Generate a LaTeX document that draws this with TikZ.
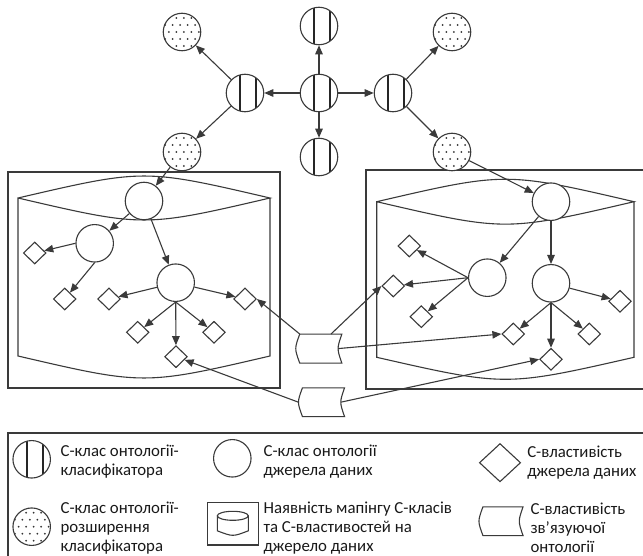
\documentclass[tikz,border=0pt]{standalone}
\usepackage{fontspec}
\setmainfont{Carlito}
\usetikzlibrary{arrows.meta,shapes.geometric,calc}
\definecolor{linegray}{HTML}{3A3A3A}
\begin{document}
\begin{tikzpicture}[
  x=1pt, y=-1pt,
  line width=1.1pt, color=linegray,
  every node/.style={inner sep=0pt},
  arr/.style={-{Triangle[length=9pt,width=7.5pt]}},
  srcclass/.style={circle, draw, fill=white, minimum size=37.5pt},
  clsclass/.style={srcclass, path picture={
      \draw[line width=1.8pt, black!85]
        ([xshift=-4.7pt]path picture bounding box.north) -- ([xshift=-4.7pt]path picture bounding box.south)
        ([xshift=11pt]path picture bounding box.north) -- ([xshift=11pt]path picture bounding box.south);}},
  extclass/.style={srcclass, path picture={
      \foreach \i in {-3,...,3} \foreach \j in {-3,...,3}
        \fill[black!80] ($(path picture bounding box.center)+({\i*7.5+mod(\j+3,2)*3.75-1.9},{\j*7})$) circle (1pt);}},
  prop/.style={diamond, draw, fill=white, minimum width=22.7pt, minimum height=22pt},
  linkprop/.style={minimum width=41pt, minimum height=28pt},
  legtext/.style={anchor=north west, align=left, text=black!90, font=\fontsize{16.8}{19.3}\selectfont}
]
\clip (0,0) rectangle (643,556);

\draw (8,172) rectangle (280,388);
\draw (18,198) .. controls (144,168.7) .. (270,198) .. controls (144,227.3) .. (18,198)
  -- (18,356) .. controls (144,385.3) .. (270,356) -- (270,198);
\draw (366,170) rectangle (650,389);
\draw (376.7,201.7) .. controls (505.4,171.8) .. (634,201.7) .. controls (505.4,231.6) .. (376.7,201.7)
  -- (376.7,357.3) .. controls (505.4,386.6) .. (634,357.3) -- (634,201.7);
\draw (8,433) rectangle (650,570);

\node[clsclass] (root) at (319,93) {};
\node[clsclass] (rootup) at (319,26) {};
\node[clsclass] (rootdown) at (319,157) {};
\node[clsclass] (clsleft) at (245,93) {};
\node[clsclass] (clsright) at (393,93) {};
\node[extclass] (extlu) at (182,32) {};
\node[extclass] (extld) at (182,152) {};
\node[extclass] (extru) at (452,32) {};
\node[extclass] (extrd) at (452,152) {};

\node[srcclass] (ltop) at (144,201) {};
\node[srcclass] (lmid1) at (94.7,243.3) {};
\node[srcclass] (lmid2) at (175.7,282.7) {};
\node[srcclass] (rtop) at (551,201.7) {};
\node[srcclass] (rmid1) at (487.3,277.7) {};
\node[srcclass] (rmid2) at (551,283.3) {};

\foreach \n/\px/\py in {ld1/34.7/253, ld2/64.7/299, ld3/109/299, ld4/245/299,
    ld5/137.7/332.3, ld6/214/332.3, ld7/176/356.7,
    re1/409.3/246, re2/393.3/286, re3/421.3/316.7, re4/620/301.3,
    re5/513.3/334, re6/589.3/334, re7/551/359.3}
  \node[prop] (\n) at (\px,\py) {};

\node[linkprop] (tape1) at (320.8,348.6) {};
\node[linkprop, minimum width=41pt, minimum height=27.7pt] (tape2) at (323.5,402.2) {};

\foreach \a/\b in {root/rootup, root/rootdown, root/clsleft, root/clsright,
    clsleft/extlu, clsleft/extld, clsright/extru, clsright/extrd,
    extld/ltop, extrd/rtop,
    ltop/lmid1, ltop/lmid2, lmid1.west/ld1, lmid1.south/ld2,
    lmid2/ld3, lmid2/ld4, lmid2.south/ld5, lmid2.south/ld6, lmid2.south/ld7,
    rtop/rmid1, rtop.south/rmid2, rmid1.west/re1, rmid1.west/re2, rmid1.west/re3,
    rmid2/re4, rmid2.south/re5, rmid2.south/re6, rmid2.south/re7}
  \draw[arr] (\a) -- (\b);

\draw[arr] (tape1.north west) -- (ld4.east);
\draw[arr] (tape1.55) -- (re2.west);
\draw[arr] ([xshift=-3.8pt]tape1.east) -- (re5.west);
\draw[arr] ([xshift=-4pt]tape2.west) -- (ld7);
\draw[arr] ([xshift=-3.8pt]tape2.east) -- (re7.west);

\node[clsclass] (legcls) at (31.7,459.3) {};
\node[legtext] (legclstext) at (60,444.5) {С-клас онтології-\\класифікатора};
\node[extclass] (legext) at (31.7,526.7) {};
\node[legtext] (legexttext) at (60,501) {С-клас онтології-\\розширення\\класифікатора};
\node[srcclass] (legsrc) at (232.3,458.3) {};
\node[legtext] (legsrctext) at (263,444.5) {С-клас онтології\\джерела даних};
\node[draw, minimum width=51pt, minimum height=42.3pt] (legmap) at (232.8,523.8) {};
\draw ($(legmap.center)+(-15.5,-8)$) -- ($(legmap.center)+(-15.5,7)$)
  .. controls ($(legmap.center)+(0,13)$) .. ($(legmap.center)+(15.5,7)$) -- ($(legmap.center)+(15.5,-8)$);
\draw ($(legmap.center)+(0,-8)$) ellipse (15.5pt and 4.5pt);
\node[legtext] (legmaptext) at (263,501) {Наявність мапінгу С-класів\\та С-властивостей на\\джерело даних};
\node[prop, minimum width=41.3pt, minimum height=38.3pt] (legprop) at (500,462.7) {};
\node[legtext] (legproptext) at (526.7,445.5) {С-властивість\\джерела даних};
\node[linkprop, minimum width=39pt, minimum height=27.7pt] (legtape) at (503,521.2) {};
\node[legtext] (legtapetext) at (530,502) {С-властивість\\зв’язуючої\\онтології};

\foreach \t in {tape1,tape2,legtape}
  \draw (\t.north west) -- (\t.north east) .. controls ($(\t.east)+(-5,0)$) .. (\t.south east)
    -- (\t.south west) .. controls ($(\t.west)+(-5.3,0)$) .. cycle;
\end{tikzpicture}
\end{document}
